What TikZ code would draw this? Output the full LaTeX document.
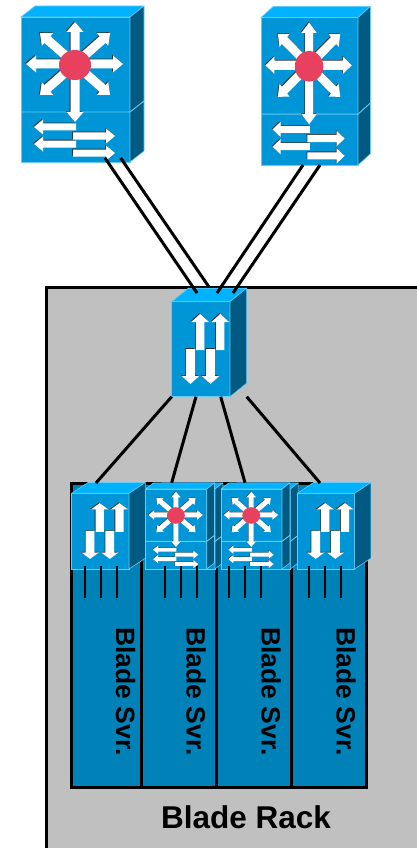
\documentclass[tikz,border=0pt]{standalone}
\usepackage{xcolor,tikz}
\usepackage{fontspec}
\setmainfont{Liberation Sans}
\definecolor{swfront}{HTML}{0095D6}
\definecolor{swtop}{HTML}{00B2FF}
\definecolor{swside}{HTML}{005A82}
\definecolor{swedge}{HTML}{66CCF5}
\definecolor{swhub}{HTML}{E8405F}
\definecolor{bladeblue}{HTML}{0082B8}
\definecolor{rackgray}{HTML}{C0C0C0}
\tikzset{
  rackbox/.style={draw=black,fill=rackgray,line width=3pt,anchor=north west,inner sep=0,outer sep=0,minimum width=420pt,minimum height=610pt},
  bladebox/.style={draw=black,fill=bladeblue,line width=3pt,anchor=north west,inner sep=0,outer sep=0,minimum height=304pt},
  bladelabel/.style={rotate=-90,font=\fontsize{26.5}{26}\selectfont\bfseries,inner sep=0},
  racklabel/.style={font=\fontsize{31.5}{32}\selectfont\bfseries,inner sep=0},
  frontface/.style={draw=swedge,fill=swfront,line width=.9pt,anchor=north west,inner sep=0,outer sep=0},
  topface/.style={draw=swedge,fill=swtop,line width=.6pt,line join=round},
  sideface/.style={draw=swedge,fill=swside,line width=.6pt,line join=round},
  seam/.style={draw=swedge,line width=.9pt},
  uplink/.style={draw=black,line width=3pt},
  portline/.style={draw=black,line width=2.8pt}
}
% #1 x, #2 y, #3 angle, #4 length, #5 half shaft, #6 half head, #7 head length
\newcommand{\fatarrow}[7]{
  \begin{scope}[shift={(#1,#2)}]
    \fill[black!80,shift={(-.8,-.8)},rotate=#3] (0,-#5) -- (#4-#7,-#5) -- (#4-#7,-#6) -- (#4,0) -- (#4-#7,#6) -- (#4-#7,#5) -- (0,#5) -- cycle;
    \fill[white,rotate=#3] (0,-#5) -- (#4-#7,-#5) -- (#4-#7,-#6) -- (#4,0) -- (#4-#7,#6) -- (#4-#7,#5) -- (0,#5) -- cycle;
  \end{scope}
}
% #1 name, #2 x, #3 y, #4 width, #5 height
\newcommand{\multilayer}[5]{
  \node[frontface,minimum width=#4pt,minimum height=#5pt] (#1) at (#2,#3) {};
  \begin{scope}[shift={(#2,#3)},xscale=#4/109,yscale=#5/145]
    \draw[topface] (0,0) -- (14,-11) -- (123,-11) -- (109,0) -- cycle;
    \draw[sideface] (109,0) -- (123,-11) -- (123,134) -- (109,145) -- cycle;
    \draw[seam] (0,95) -- (109,95) -- (123,84);
    \foreach \ang/\len in {90/42,-90/58,0/48,180/49,41.5/46.8,138.5/46.8,221.5/46.8,-41.5/46.8}
      \fatarrow{54}{47}{\ang}{\len}{4.5}{8.5}{10};
    \fill[swhub] (54,48) ellipse (16 and 15);
    \fatarrow{55}{110}{180}{42}{3.5}{7.5}{9};
    \fatarrow{55}{127}{180}{42}{3.5}{7.5}{9};
    \fatarrow{52}{119}{0}{42}{3.5}{7.5}{9};
    \fatarrow{52}{136}{0}{42}{3.5}{7.5}{9};
  \end{scope}
}
\newcommand{\accessbox}[5]{
  \node[frontface,minimum width=#4pt,minimum height=#5pt] (#1) at (#2,#3) {};
  \begin{scope}[shift={(#2,#3)},xscale=#4/58,yscale=#5/95]
    \draw[topface] (0,0) -- (16.5,-13.5) -- (74.5,-13.5) -- (58,0) -- cycle;
    \draw[sideface] (58,0) -- (74.5,-13.5) -- (74.5,81.5) -- (58,95) -- cycle;
    \fatarrow{28.3}{48.3}{90}{36}{4.2}{8.8}{8};
    \fatarrow{48.3}{48.3}{90}{36}{4.2}{8.8}{8};
    \fatarrow{18.6}{47.3}{-90}{35}{4.4}{8.8}{8};
    \fatarrow{38.6}{47.3}{-90}{35}{4.4}{8.8}{8};
  \end{scope}
}
\begin{document}
\begin{tikzpicture}[x=1pt,y=-1pt]
\useasboundingbox (0,0) rectangle (417,848);
\node[rackbox] (rack) at (46,287.5) {};
\node[bladebox,minimum width=70pt] (blade1) at (71,483) {};
\node[bladebox,minimum width=75pt] (blade2) at (141,483) {};
\node[bladebox,minimum width=75pt] (blade3) at (216,483) {};
\node[bladebox,minimum width=75pt] (blade4) at (291,483) {};
\node[bladelabel] (svr1) at (125.5,691.5) {Blade Svr.};
\node[bladelabel] (svr2) at (196,691.5) {Blade Svr.};
\node[bladelabel] (svr3) at (271,691.5) {Blade Svr.};
\node[bladelabel] (svr4) at (346,691.5) {Blade Svr.};
\node[racklabel] (racktext) at (246,817) {Blade Rack};
\multilayer{coreA}{21}{17}{109}{145}
\multilayer{coreB}{261}{17.5}{97}{147.5}
\accessbox{rackSw}{171.7}{301.7}{58.3}{95}
\accessbox{edgeA}{71.7}{493.3}{57.3}{75.7}
\multilayer{mlAback}{154}{489}{61}{80}
\multilayer{mlA}{145.7}{489}{61}{80}
\multilayer{mlBback}{229.3}{489}{61}{80}
\multilayer{mlB}{221}{489}{61}{80}
\accessbox{edgeB}{297.3}{493.3}{57.3}{75.7}
\foreach \sw/\off in {edgeA/13.3,mlA/19.3,mlB/8,edgeB/11.7}
  \foreach \k in {0,16,32}
    \draw[portline] ([xshift=\off pt+\k pt,yshift=3pt]\sw.south west) -- ++(0,32);
\draw[uplink] ([xshift=84pt,yshift=4pt]coreA.south west) -- ([xshift=25.3pt,yshift=8.7pt]rackSw.north west);
\draw[uplink] ([xshift=99.7pt,yshift=4pt]coreA.south west) -- ([xshift=37.3pt,yshift=14.7pt]rackSw.north west);
\draw[uplink] ([xshift=42pt]coreB.south west) -- ([xshift=45.3pt,yshift=8.7pt]rackSw.north west);
\draw[uplink] ([xshift=59pt]coreB.south west) -- ([xshift=61.3pt,yshift=8.7pt]rackSw.north west);
\draw[uplink] (rackSw.south west) -- ([xshift=24.3pt,yshift=10.3pt]edgeA.north west);
\draw[uplink] ([xshift=24.3pt]rackSw.south west) -- ([xshift=26pt,yshift=6.3pt]mlA.north west);
\draw[uplink] ([xshift=49pt]rackSw.south west) -- ([xshift=24pt,yshift=6.3pt]mlB.north west);
\draw[uplink] ([xshift=75pt]rackSw.south west) -- ([xshift=22.7pt,yshift=10.3pt]edgeB.north west);
\end{tikzpicture}
\end{document}
